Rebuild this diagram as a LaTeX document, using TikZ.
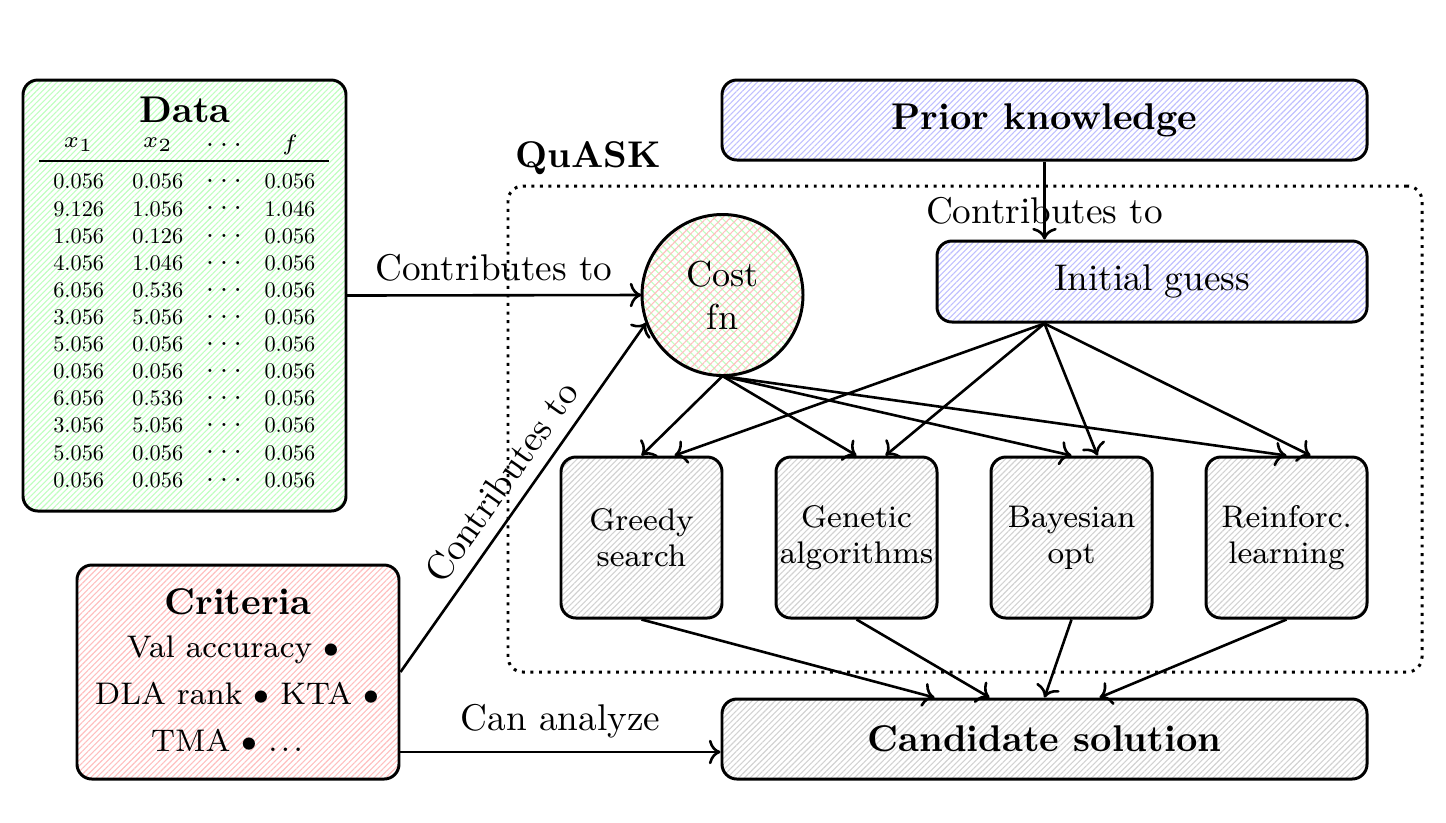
\documentclass[tikz,border=0pt]{standalone}
\usetikzlibrary{patterns.meta,arrows.meta}
\newcommand\pxu{0.2688pt}
\font\tabrm=cmr10 at 6pt
\tikzset{
  hatch/.style={pattern={Lines[angle=45,distance=1.1pt,line width=0.3pt]},pattern color=#1},
  boxbase/.style={draw,thick,rounded corners=4pt,inner sep=0pt},
  algbox/.style={boxbase,hatch=gray!35,minimum width=161*\pxu,minimum height=161*\pxu,align=center,font=\fontsize{8.4}{9.6}\selectfont},
  wide/.style={boxbase,minimum width=645*\pxu,minimum height=80*\pxu},
  tabtxt/.style={inner sep=0pt,font=\tabrm},
  tabhead/.style={inner sep=0pt,font=\fontsize{6}{7}\selectfont},
  tabdots/.style={inner sep=0pt,font=\fontsize{7.5}{8}\selectfont},
  crittxt/.style={inner sep=0pt,font=\fontsize{8.4}{10}\selectfont},
  conn/.style={->,line width=0.7pt},
}
\begin{document}
\begin{tikzpicture}[x=0.2688pt,y=-0.2688pt]
\useasboundingbox (0,0) rectangle (1446,822);

% QuASK dotted region
\node[draw,thick,dash pattern=on 0.8pt off 1.5pt,rounded corners=4pt,minimum width=914*\pxu,minimum height=486*\pxu] (qbox) at (965,429) {};
\node[font=\bfseries] (qlabel) at (588,158) {QuASK};

% Data
\node[boxbase,hatch=green!25,minimum width=323*\pxu,minimum height=431*\pxu] (data) at (184.5,295.5) {};
\node[font=\bfseries,inner sep=0pt] (dtitle) at (185,110) {Data};
\node[tabhead] (h1) at (78.7,145) {$x_1$};
\node[tabhead] (h2) at (157.8,145) {$x_2$};
\node[tabdots] (h3) at (224,145) {$\cdots$};
\node[tabhead] (h4) at (290,145) {$f$};
\coordinate (rl) at (39,161);
\coordinate (rr) at (329,161);
\draw[line width=0.4pt] (rl) -- (rr);
\foreach [count=\i] \a/\b/\c in {0.056/0.056/0.056,9.126/1.056/1.046,1.056/0.126/0.056,4.056/1.046/0.056,6.056/0.536/0.056,3.056/5.056/0.056,5.056/0.056/0.056,0.056/0.056/0.056,6.056/0.536/0.056,3.056/5.056/0.056,5.056/0.056/0.056,0.056/0.056/0.056}{
  \pgfmathsetmacro\yy{181.7+(\i-1)*27.12}
  \node[tabtxt] (r\i a) at (78.7,\yy) {\a};
  \node[tabtxt] (r\i b) at (157.8,\yy) {\b};
  \node[tabdots] (r\i d) at (224,\yy) {$\cdots$};
  \node[tabtxt] (r\i c) at (290,\yy) {\c};
}

% Criteria
\node[boxbase,hatch=red!25,minimum width=322*\pxu,minimum height=214*\pxu] (crit) at (238,672) {};
\node[font=\bfseries,inner sep=0pt] (ctitle) at (238,602) {Criteria};
\node[crittxt] (c1) at (233,650) {Val accuracy $\bullet$};
\node[crittxt] (c2) at (237,693) {DLA rank $\bullet$ KTA $\bullet$};
\node[crittxt] (c3) at (227,740) {TMA $\bullet$ .\kern0.9pt.\kern0.9pt.};

% Prior knowledge, initial guess
\node[wide,hatch=blue!25,font=\bfseries] (prior) at (1044.5,120) {Prior knowledge};
\node[boxbase,hatch=blue!25,minimum width=430*\pxu,minimum height=81*\pxu] (init) at (1152,281.5) {Initial guess};

% Cost function
\node[circle,draw,thick,minimum size=161*\pxu,inner sep=0pt,align=center,
  pattern={Lines[angle=45,distance=1.5pt,line width=0.3pt]},pattern color=red!25,
  preaction={pattern={Lines[angle=-45,distance=1.5pt,line width=0.3pt]},pattern color=green!25},
  font=\fontsize{9.7}{11.6}\selectfont] (cost) at (722.5,295) {Cost\\fn};

% Algorithms
\node[algbox] (greedy) at (641.5,537.5) {Greedy\\search};
\node[algbox] (genetic) at (856.5,537.5) {Genetic\\algorithms};
\node[algbox] (bayes) at (1071.5,537.5) {Bayesian\\opt};
\node[algbox] (reinf) at (1286.5,537.5) {Reinforc.\\learning};

% Candidate
\node[wide,hatch=gray!35,font=\bfseries] (cand) at (1044.5,739) {Candidate solution};

% Connectors
\draw[conn] (data.east) -- node[above] {Contributes to} (cost.west);
\draw[conn] (crit.east) -- node[midway,above,sloped] {Contributes to} (cost.200);
\draw[conn] ([yshift=-80*\pxu]crit.east) -- node[above] {Can analyze} ([yshift=-80*\pxu]crit.east -| cand.west);
\draw[conn] (prior.south) -- node[pos=0.63] {Contributes to} (prior.south |- init.north);

\coordinate (igs) at (prior.south |- init.south);
\foreach \t in {greedy,genetic,bayes,reinf}{
  \draw[conn] (cost.south) -- (\t.north);
}
\draw[conn] (igs) -- ([xshift=33*\pxu]greedy.north);
\draw[conn] (igs) -- ([xshift=29*\pxu]genetic.north);
\draw[conn] (igs) -- ([xshift=26*\pxu]bayes.north);
\draw[conn] (igs) -- ([xshift=24*\pxu]reinf.north);

\draw[conn] (greedy.south) -- ([xshift=-110*\pxu]cand.north);
\draw[conn] (genetic.south) -- ([xshift=-55*\pxu]cand.north);
\draw[conn] (bayes.south) -- (cand.north);
\draw[conn] (reinf.south) -- ([xshift=55*\pxu]cand.north);
\end{tikzpicture}
\end{document}
